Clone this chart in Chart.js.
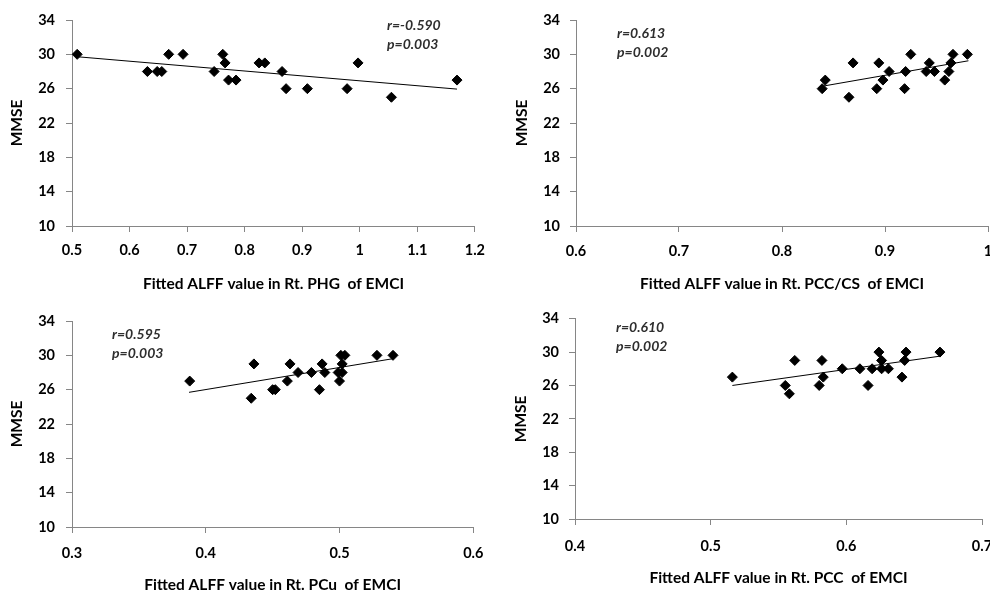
<!DOCTYPE html>
<html>
<head>
<meta charset="utf-8">
<script src="https://cdn.jsdelivr.net/npm/chart.js@4.4.1/dist/chart.umd.min.js"></script>
<style>
  html, body { margin: 0; padding: 0; background: #fff; width: 990px; height: 593px; overflow: hidden; }
  canvas { position: absolute; }
</style>
</head>
<body>
<canvas id="c1" width="495" height="300" style="left:0px;top:0px;"></canvas>
<canvas id="c2" width="520" height="300" style="left:495px;top:0px;"></canvas>
<canvas id="c3" width="495" height="293" style="left:0px;top:300px;"></canvas>
<canvas id="c4" width="520" height="293" style="left:495px;top:300px;"></canvas>
<script>
// ---- Data ----
const yTicks = [10, 14, 18, 22, 26, 30, 34];
const yTickLabels = ["10", "14", "18", "22", "26", "30", "34"];
const yTitle = "MMSE";

// Panel 1: Rt. PHG
const p1X = [0.509,0.631,0.648,0.656,0.668,0.693,0.747,0.762,0.766,0.772,0.785,0.825,0.835,0.865,0.872,0.909,0.978,0.997,1.055,1.169];
const p1Y = [30,28,28,28,30,30,28,30,29,27,27,29,29,28,26,26,26,29,25,27];
const t1X = [0.509, 1.169];
const t1Y = [29.72, 25.95];
const p1XTicks = [0.5,0.6,0.7,0.8,0.9,1.0,1.1,1.2];
const p1XTickLabels = ["0.5","0.6","0.7","0.8","0.9","1","1.1","1.2"];
const p1Title = "Fitted ALFF value in Rt. PHG  of EMCI";
const p1Stats = ["r=-0.590", "p=0.003"];

// Panel 2: Rt. PCC/CS
const p2X = [0.839,0.842,0.865,0.869,0.892,0.894,0.898,0.904,0.919,0.920,0.925,0.940,0.943,0.948,0.958,0.962,0.964,0.966,0.980];
const p2Y = [26,27,25,29,26,29,27,28,26,28,30,28,29,28,27,28,29,30,30];
const t2X = [0.840, 0.981];
const t2Y = [26.30, 29.25];
const p2XTicks = [0.6,0.7,0.8,0.9,1.0];
const p2XTickLabels = ["0.6","0.7","0.8","0.9","1"];
const p2Title = "Fitted ALFF value in Rt. PCC/CS  of EMCI";
const p2Stats = ["r=0.613", "p=0.002"];

// Panel 3: Rt. PCu
const p3X = [0.388,0.434,0.436,0.450,0.452,0.461,0.463,0.469,0.479,0.485,0.487,0.489,0.499,0.500,0.501,0.502,0.502,0.504,0.528,0.540];
const p3Y = [27,25,29,26,26,27,29,28,28,26,29,28,28,27,30,29,28,30,30,30];
const t3X = [0.3875, 0.540];
const t3Y = [25.69, 29.61];
const p3XTicks = [0.3,0.4,0.5,0.6];
const p3XTickLabels = ["0.3","0.4","0.5","0.6"];
const p3Title = "Fitted ALFF value in Rt. PCu  of EMCI";
const p3Stats = ["r=0.595", "p=0.003"];

// Panel 4: Rt. PCC
const p4X = [0.516,0.555,0.558,0.562,0.580,0.582,0.583,0.597,0.610,0.616,0.619,0.624,0.626,0.626,0.631,0.641,0.643,0.644,0.669];
const p4Y = [27,26,25,29,26,29,27,28,28,26,28,30,29,28,28,27,29,30,30];
const t4X = [0.516, 0.669];
const t4Y = [26.0, 29.51];
const p4XTicks = [0.4,0.5,0.6,0.7];
const p4XTickLabels = ["0.4","0.5","0.6","0.7"];
const p4Title = "Fitted ALFF value in Rt. PCC  of EMCI";
const p4Stats = ["r=0.610", "p=0.002"];

// ---- Rendering ----
const FONT = "Lato";
const AXIS_GRAY = "#868686";
const TEXT = "#000000";
const TICK_SIZE = 14.5;
const TITLE_SIZE = 15.5;

function pts(xs, ys) { return xs.map((x, i) => ({ x: x, y: ys[i] })); }

function makeChart(id, o) {
  const statsPlugin = {
    id: 'stats' + id,
    afterDraw(chart) {
      const ctx = chart.ctx;
      ctx.save();
      ctx.font = "italic bold 14px " + FONT;
      ctx.fillStyle = "#2e2e2e";
      ctx.textAlign = "left";
      ctx.textBaseline = "middle";
      ctx.fillText(o.stats[0], o.statsX, o.statsY[0]);
      ctx.fillText(o.stats[1], o.statsX, o.statsY[1]);
      ctx.restore();
    }
  };
  return new Chart(document.getElementById(id), {
    type: 'scatter',
    data: {
      datasets: [
        {
          data: pts(o.px, o.py),
          pointStyle: 'rectRot',
          pointRadius: 5,
          pointHoverRadius: 5,
          backgroundColor: '#000',
          borderColor: '#000',
          borderWidth: 1,
          showLine: false
        },
        {
          data: pts(o.tx, o.ty),
          showLine: true,
          pointRadius: 0,
          borderColor: '#000',
          borderWidth: 1,
          fill: false
        }
      ]
    },
    options: {
      responsive: false,
      animation: false,
      devicePixelRatio: 1,
      layout: { padding: { top: o.padTop, right: o.padRight, left: 0, bottom: 0 } },
      plugins: { legend: { display: false }, tooltip: { enabled: false } },
      scales: {
        x: {
          type: 'linear',
          min: o.xTicks[0],
          max: o.xTicks[o.xTicks.length - 1],
          afterBuildTicks: s => { s.ticks = o.xTicks.map(v => ({ value: v })); },
          afterFit: s => { s.height = o.xHeight; },
          border: { display: true, color: AXIS_GRAY, width: 1 },
          grid: { display: true, drawOnChartArea: false, drawTicks: true, tickLength: 6, color: AXIS_GRAY },
          ticks: {
            color: TEXT,
            font: { family: FONT, size: TICK_SIZE, weight: 'bold' },
            padding: o.xTickPad,
            maxRotation: 0,
            autoSkip: false,
            callback: (v) => { const i = o.xTicks.findIndex(t => Math.abs(t - v) < 1e-9); return i >= 0 ? o.xLabels[i] : ''; }
          },
          title: {
            display: true,
            text: o.title,
            color: TEXT,
            font: { family: FONT, size: TITLE_SIZE, weight: 'bold' },
            padding: { top: 0, bottom: o.xTitlePad }
          }
        },
        y: {
          type: 'linear',
          min: 10,
          max: 34,
          afterBuildTicks: s => { s.ticks = yTicks.map(v => ({ value: v })); },
          afterFit: s => { s.width = o.yWidth; },
          border: { display: true, color: AXIS_GRAY, width: 1 },
          grid: { display: true, drawOnChartArea: false, drawTicks: true, tickLength: 6, color: AXIS_GRAY },
          ticks: {
            color: TEXT,
            font: { family: FONT, size: TICK_SIZE, weight: 'bold' },
            padding: o.yTickPad,
            autoSkip: false,
            callback: (v) => { const i = yTicks.indexOf(v); return i >= 0 ? yTickLabels[i] : ''; }
          },
          title: {
            display: true,
            text: yTitle,
            color: TEXT,
            font: { family: FONT, size: TITLE_SIZE, weight: 'bold' },
            padding: { top: o.yTitlePad, bottom: 0 }
          }
        }
      }
    },
    plugins: [statsPlugin]
  });
}

makeChart('c1', {
  px: p1X, py: p1Y, tx: t1X, ty: t1Y, xTicks: p1XTicks, xLabels: p1XTickLabels, title: p1Title,
  stats: p1Stats, statsX: 387, statsY: [25, 44],
  padTop: 20, padRight: 18, yWidth: 72, xHeight: 74, xTickPad: 10, yTickPad: 11, xTitlePad: 6.7, yTitlePad: 7.7
});
makeChart('c2', {
  px: p2X, py: p2Y, tx: t2X, ty: t2Y, xTicks: p2XTicks, xLabels: p2XTickLabels, title: p2Title,
  stats: p2Stats, statsX: 122, statsY: [33, 52],
  padTop: 20, padRight: 27, yWidth: 81, xHeight: 74, xTickPad: 11, yTickPad: 10, xTitlePad: 6.7, yTitlePad: 17.7
});
makeChart('c3', {
  px: p3X, py: p3Y, tx: t3X, ty: t3Y, xTicks: p3XTicks, xLabels: p3XTickLabels, title: p3Title,
  stats: p3Stats, statsX: 112, statsY: [34, 53],
  padTop: 21, padRight: 18, yWidth: 72, xHeight: 66, xTickPad: 11.6, yTickPad: 11, xTitlePad: -1, yTitlePad: 7.7
});
makeChart('c4', {
  px: p4X, py: p4Y, tx: t4X, ty: t4Y, xTicks: p4XTicks, xLabels: p4XTickLabels, title: p4Title,
  stats: p4Stats, statsX: 121, statsY: [27, 46],
  padTop: 14, padRight: 33, yWidth: 80, xHeight: 74, xTickPad: 12.6, yTickPad: 10, xTitlePad: 5.7, yTitlePad: 16.7
});
</script>
</body>
</html>
